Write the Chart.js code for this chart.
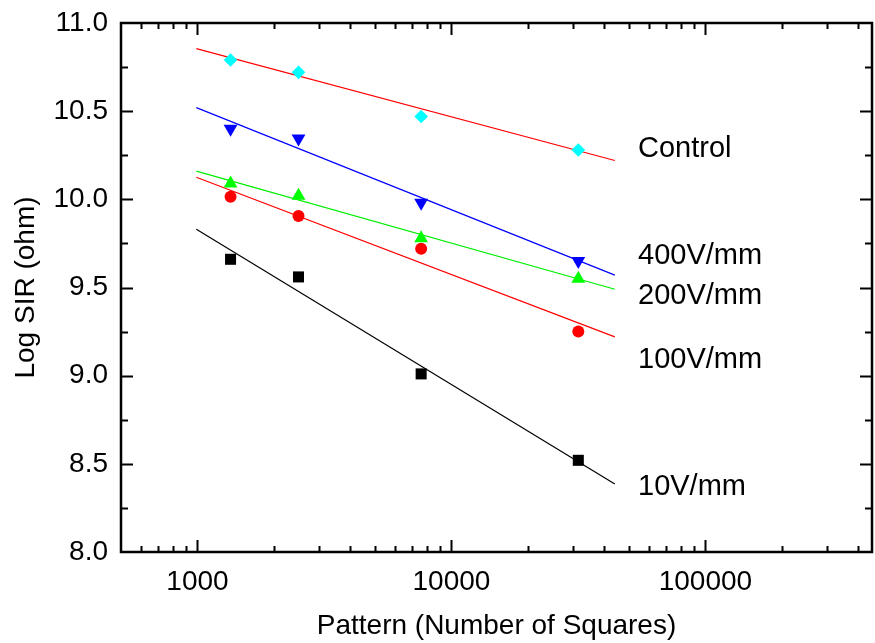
<!DOCTYPE html>
<html>
<head>
<meta charset="utf-8">
<script src="https://cdn.jsdelivr.net/npm/chart.js@4/dist/chart.umd.min.js"></script>
<style>
  html, body { margin: 0; padding: 0; background: #fff; overflow: hidden; }
  #wrap { width: 875px; height: 643px; }
</style>
</head>
<body>
<div id="wrap"><canvas id="grafico"></canvas></div>
<script>
// dados
const padroes = [1350, 2500, 7600, 31600]; // número de quadrados
const controle = [10.79, 10.72, 10.47, 10.28];
const v400 = [10.40, 10.345, 9.98, 9.65];
const v200 = [10.09, 10.02, 9.78, 9.55];
const v100 = [10.015, 9.905, 9.72, 9.25];
const v10 = [9.66, 9.56, 9.01, 8.52];

// retas de ajuste (início e fim)
const ajusteX = [990, 44000];
const ajusteControle = [10.855, 10.22];
const ajuste400 = [10.52, 9.57];
const ajuste200 = [10.16, 9.49];
const ajuste100 = [10.125, 9.22];
const ajuste10 = [9.83, 8.385];

// rótulos das séries
const nomes = ['Control', '400V/mm', '200V/mm', '100V/mm', '10V/mm'];
const nomesY = [10.285, 9.68, 9.45, 9.087, 8.37];
const nomesX = 54300;

const yTicks = ['8.0', '8.5', '9.0', '9.5', '10.0', '10.5', '11.0'];

const FONTE = '"Liberation Sans", Arial, sans-serif';

function pontos(ys) {
    return padroes.map((x, i) => ({ x: x, y: ys[i] }));
}
function reta(ys) {
    return ajusteX.map((x, i) => ({ x: x, y: ys[i] }));
}

function serie(ys, cor, estilo, raio, rot) {
    return {
        data: pontos(ys),
        backgroundColor: cor,
        borderColor: cor,
        borderWidth: 0,
        pointStyle: estilo,
        pointRadius: raio,
        rotation: rot || 0,
        showLine: false,
        order: 1
    };
}
function linha(ys, cor) {
    return {
        data: reta(ys),
        borderColor: cor,
        borderWidth: 1.2,
        pointRadius: 0,
        showLine: true,
        order: 2
    };
}

// moldura, marcas de escala internas e rótulos das séries
const molduraPlugin = {
    id: 'moldura',
    afterDraw(chart) {
        const ctx = chart.ctx;
        const a = chart.chartArea;
        const sx = chart.scales.x;
        const sy = chart.scales.y;
        ctx.save();
        ctx.strokeStyle = '#000';
        ctx.lineWidth = 2;
        ctx.beginPath();
        for (let d = 100; d <= 1e6; d *= 10) {
            for (let m = 1; m <= 9; m++) {
                const v = d * m;
                if (v <= sx.min || v >= sx.max) continue;
                const px = Math.round(sx.getPixelForValue(v)) + 0.5;
                const len = m === 1 ? 12 : 6;
                ctx.moveTo(px, a.bottom); ctx.lineTo(px, a.bottom - len);
                ctx.moveTo(px, a.top); ctx.lineTo(px, a.top + len);
            }
        }
        for (let k = 1; k < 12; k++) {
            const v = 8 + k * 0.25;
            const py = Math.round(sy.getPixelForValue(v)) + 0.5;
            const len = k % 2 === 0 ? 12 : 7;
            ctx.moveTo(a.left, py); ctx.lineTo(a.left + len, py);
            ctx.moveTo(a.right, py); ctx.lineTo(a.right - len, py);
        }
        ctx.stroke();
        ctx.lineWidth = 2.5;
        ctx.strokeRect(a.left, a.top, a.right - a.left, a.bottom - a.top);

        ctx.fillStyle = '#000';
        ctx.font = '29px ' + FONTE;
        ctx.textAlign = 'left';
        ctx.textBaseline = 'middle';
        const px = sx.getPixelForValue(nomesX);
        nomes.forEach((n, i) => {
            ctx.fillText(n, px, sy.getPixelForValue(nomesY[i]));
        });
        ctx.restore();
    }
};

const ctx = document.getElementById('grafico').getContext('2d');
new Chart(ctx, {
    type: 'scatter',
    data: {
        datasets: [
            linha(ajusteControle, '#ff0000'),
            linha(ajuste400, '#0000ff'),
            linha(ajuste200, '#00ee00'),
            linha(ajuste100, '#ff0000'),
            linha(ajuste10, '#000000'),
            serie(controle, '#00ffff', 'rectRot', 6.8),
            serie(v400, '#0000ff', 'triangle', 8, 180),
            serie(v200, '#00ff00', 'triangle', 8),
            serie(v100, '#ff0000', 'circle', 6),
            serie(v10, '#000000', 'rect', 7.8)
        ]
    },
    options: {
        responsive: true,
        maintainAspectRatio: false,
        animation: false,
        layout: { autoPadding: false, padding: { top: 23, right: 3, left: 0, bottom: 0 } },
        plugins: {
            legend: { display: false },
            tooltip: { enabled: false }
        },
        scales: {
            x: {
                type: 'logarithmic',
                min: 500,
                max: 453000,
                grid: { display: false, drawTicks: true, tickLength: 13 },
                border: { display: false },
                afterFit: (s) => { s.height = 91; s.paddingLeft = 0; s.paddingRight = 0; },
                ticks: {
                    autoSkip: false,
                    maxRotation: 0,
                    padding: 0,
                    color: '#000',
                    font: { family: FONTE, size: 28 },
                    callback: (v) => (v === 1000 || v === 10000 || v === 100000) ? String(v) : ''
                },
                title: {
                    display: true,
                    text: 'Pattern (Number of Squares)',
                    color: '#000',
                    font: { family: FONTE, size: 28 },
                    padding: { top: 0, bottom: 0 }
                }
            },
            y: {
                min: 8,
                max: 11,
                grid: { display: false, drawTicks: true, tickLength: 13 },
                border: { display: false },
                afterFit: (s) => { s.width = 121; s.paddingTop = 0; s.paddingBottom = 0; },
                afterBuildTicks: (s) => {
                    s.ticks = yTicks.map(t => ({ value: parseFloat(t) }));
                },
                ticks: {
                    padding: 0,
                    color: '#000',
                    font: { family: FONTE, size: 28 },
                    callback: (v) => Number(v).toFixed(1)
                },
                title: {
                    display: true,
                    text: 'Log SIR (ohm)',
                    color: '#000',
                    font: { family: FONTE, size: 28 },
                    padding: { top: 9, bottom: 0 }
                }
            }
        }
    },
    plugins: [molduraPlugin]
});
</script>
</body>
</html>
